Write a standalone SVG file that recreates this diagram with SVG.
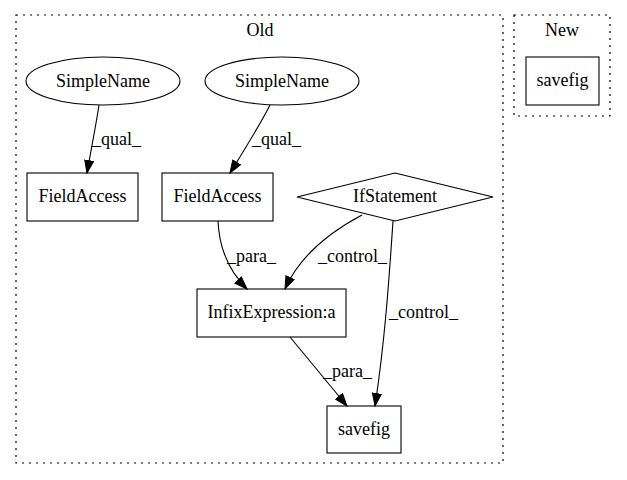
<svg xmlns="http://www.w3.org/2000/svg" width="627" height="480" viewBox="0 0 627 480">
<style>
text{font-family:"Liberation Serif","Times New Roman",serif;font-size:18px;fill:#000}
.c{text-anchor:middle}
.node{fill:none;stroke:#000;stroke-width:1.1}
.cluster{fill:none;stroke:#000;stroke-width:1.2;stroke-dasharray:2,5}
.edge{fill:none;stroke:#000;stroke-width:1.1;marker-end:url(#ah)}
</style>
<defs>
<marker id="ah" markerUnits="userSpaceOnUse" markerWidth="15" markerHeight="12" refX="13" refY="5" orient="auto">
<polygon points="0.5,0.5 13,5 0.5,9.5" fill="#000" stroke="#000"/>
</marker>
</defs>
<rect width="627" height="480" fill="#fff"/>
<g id="cluster_old">
<rect class="cluster" x="16" y="15" width="487" height="448"/>
<text class="c" x="260" y="36">Old</text>
</g>
<g id="cluster_new">
<rect class="cluster" x="514" y="15" width="96" height="101"/>
<text class="c" x="562" y="36">New</text>
</g>
<g id="n_simplename1">
<ellipse class="node" cx="103" cy="81" rx="77" ry="24"/>
<text class="c" x="103" y="87">SimpleName</text>
</g>
<g id="n_simplename2">
<ellipse class="node" cx="282" cy="81" rx="77" ry="24"/>
<text class="c" x="282" y="87">SimpleName</text>
</g>
<g id="n_fieldaccess1">
<rect class="node" x="27" y="173" width="111" height="48"/>
<text class="c" x="82.5" y="202">FieldAccess</text>
</g>
<g id="n_fieldaccess2">
<rect class="node" x="162" y="173" width="111" height="48"/>
<text class="c" x="217.5" y="202">FieldAccess</text>
</g>
<g id="n_ifstatement">
<polygon class="node" points="395,173 493,197 395,221 297,197"/>
<text class="c" x="395" y="202">IfStatement</text>
</g>
<g id="n_infix">
<rect class="node" x="197" y="289" width="149" height="48"/>
<text class="c" x="271.5" y="318">InfixExpression:a</text>
</g>
<g id="n_savefig_old">
<rect class="node" x="327" y="406" width="74" height="47"/>
<text class="c" x="364" y="435">savefig</text>
</g>
<g id="n_savefig_new">
<rect class="node" x="526" y="57" width="73" height="48"/>
<text class="c" x="562.5" y="86">savefig</text>
</g>
<g id="edges">
<path class="edge" d="M99,105 C96,125 91,150 87,173"/>
<text x="92" y="145">_qual_</text>
<path class="edge" d="M270,105 C260,125 243,152 230,173"/>
<text x="252" y="145">_qual_</text>
<path class="edge" d="M218,221 C219,245 226,268 247,289"/>
<text x="227" y="262">_para_</text>
<path class="edge" d="M362,215 C330,232 300,255 285,289"/>
<text x="318" y="262">_control_</text>
<path class="edge" d="M393,221 C389,280 385,340 375,406"/>
<text x="389" y="318">_control_</text>
<path class="edge" d="M290,337 L347,406"/>
<text x="323" y="377">_para_</text>
</g>
</svg>
